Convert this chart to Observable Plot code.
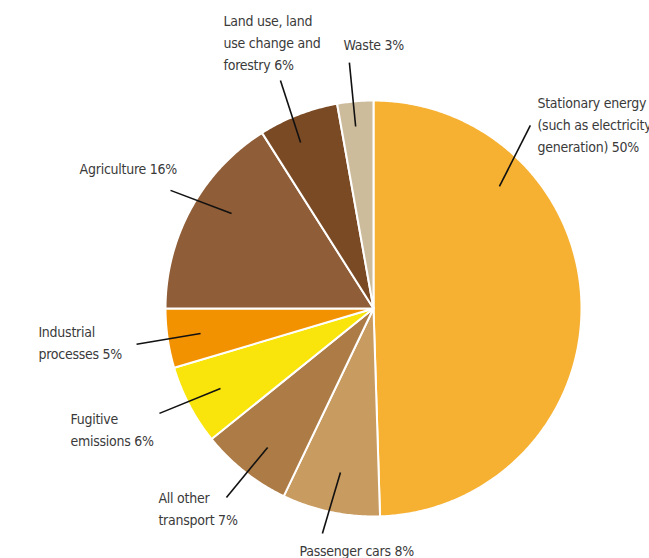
<!DOCTYPE html>
<html>
<head>
<meta charset="utf-8">
<script src="https://cdn.jsdelivr.net/npm/d3@7"></script>
<script src="https://cdn.jsdelivr.net/npm/@observablehq/plot@0.6"></script>
<style>
  html, body { margin: 0; padding: 0; background: #fff; overflow: hidden; }
  #chart svg { display: block; }
</style>
</head>
<body>
<div id="chart"></div>
<script>
// ---- data ----
const categories = [
  "Stationary energy (such as electricity generation)",
  "Passenger cars",
  "All other transport",
  "Fugitive emissions",
  "Industrial processes",
  "Agriculture",
  "Land use, land use change and forestry",
  "Waste"
];
const shares = [49.5, 7.6, 7.1, 6.2, 4.6, 16.0, 6.2, 2.8];
const labels = [
  "Stationary energy\n(such as electricity\ngeneration) 50%",
  "Passenger cars 8%",
  "All other\ntransport 7%",
  "Fugitive\nemissions 6%",
  "Industrial\nprocesses 5%",
  "Agriculture 16%",
  "Land use, land\nuse change and\nforestry 6%",
  "Waste 3%"
];
const colors = ["#F6B133", "#C89B60", "#AD7B45", "#F9E40C", "#F29200", "#8F5D37", "#7A4A25", "#CDBC9C"];

// ---- annotation layout (pie-radius units, relative to centre) ----
// leader line: outer end [angle deg clockwise from north, radius], inner end [angle, radius]
const leaderOuter = [[40.6, 1.159], [192.8, 1.109], [217.9, 1.151], [243.9, 1.146], [261.4, 1.152], [300.2, 1.129], [337.8, 1.184], [354.4, 1.188]];
const leaderInner = [[45.9, 0.843], [191.4, 0.804], [217.3, 0.840], [242.4, 0.830], [261.8, 0.840], [303.8, 0.821], [336.3, 0.872], [354.4, 0.879]];
// label text anchor (left edge, top of first line)
const labelPos = [[0.788, 1.040], [-0.356, -1.116], [-1.034, -0.860], [-1.457, -0.480], [-1.611, -0.062], [-1.413, 0.722], [-0.721, 1.433], [-0.144, 1.318]];

// ---- build tables ----
const W = 649, H = 558;
const pie = d3.pie().sort(null).value(d => d.share)(categories.map((c, i) => ({name: c, share: shares[i]})));
const polar = (a, r) => [r * Math.sin(a), r * Math.cos(a)];
const rad = d => d * Math.PI / 180;

const pieRows = [];
pie.forEach(s => {
  const name = s.data.name;
  pieRows.push({name, x: 0, y: 0});
  const n = Math.max(2, Math.ceil((s.endAngle - s.startAngle) / rad(0.5)));
  for (let k = 0; k <= n; k++) {
    const a = s.startAngle + (s.endAngle - s.startAngle) * k / n;
    const [x, y] = polar(a, 1);
    pieRows.push({name, x, y});
  }
  pieRows.push({name, x: 0, y: 0});
});

const leaders = categories.map((c, i) => {
  const [x1, y1] = polar(rad(leaderOuter[i][0]), leaderOuter[i][1]);
  const [x2, y2] = polar(rad(leaderInner[i][0]), leaderInner[i][1]);
  return {name: c, x1, y1, x2, y2};
});
const labelRows = categories.map((c, i) => ({name: c, text: labels[i], x: labelPos[i][0], y: labelPos[i][1]}));

// scale domains: centre at (373, 308) px, radius 208 px
const R = 208, cx = 373, cy = 308;

const chart = Plot.plot({
  width: W,
  height: H,
  margin: 0,
  style: {fontFamily: "'Liberation Sans Narrow', 'DejaVu Sans Condensed', sans-serif", background: "#fff", letterSpacing: "-0.25px"},
  x: {domain: [-cx / R, (W - cx) / R], axis: null},
  y: {domain: [-(H - cy) / R, cy / R], axis: null},
  color: {domain: categories, range: colors},
  marks: [
    Plot.line(pieRows, {x: "x", y: "y", z: "name", fill: "name", stroke: "#fff", strokeWidth: 2, strokeLinejoin: "round", curve: "linear"}),
    Plot.link(leaders, {x1: "x1", y1: "y1", x2: "x2", y2: "y2", stroke: "#111", strokeWidth: 1.6}),
    Plot.text(labelRows, {x: "x", y: "y", text: "text", textAnchor: "start", lineAnchor: "top", lineHeight: 1.57, fontSize: 14, fill: "#3a3a3a"})
  ]
});
document.getElementById("chart").appendChild(chart);
</script>
</body>
</html>
